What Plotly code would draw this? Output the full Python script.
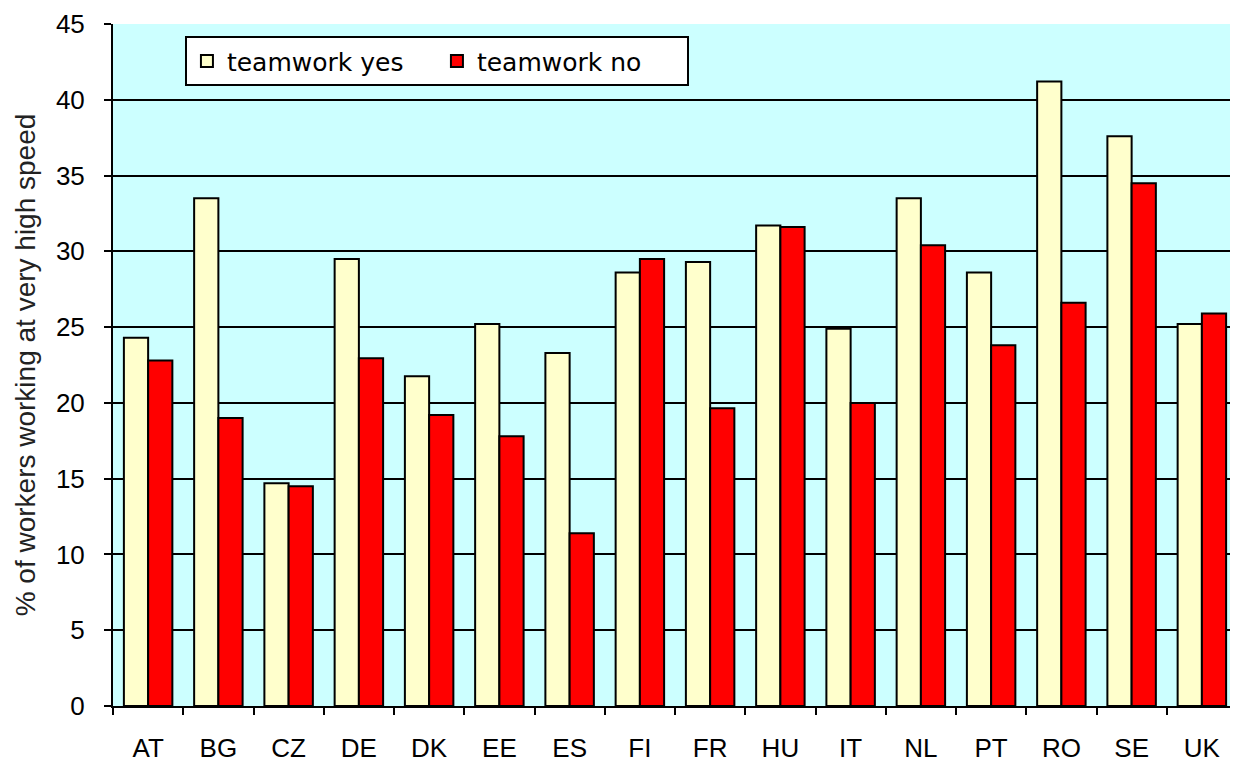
import plotly.graph_objects as go

countries = ["AT", "BG", "CZ", "DE", "DK", "EE", "ES", "FI", "FR", "HU",
             "IT", "NL", "PT", "RO", "SE", "UK"]
teamwork_yes = [24.3, 33.5, 14.7, 29.5, 21.75, 25.2, 23.3, 28.6, 29.3, 31.7,
                24.9, 33.5, 28.6, 41.2, 37.6, 25.2]
teamwork_no = [22.8, 19.0, 14.5, 22.95, 19.2, 17.8, 11.4, 29.5, 19.65, 31.6,
               20.0, 30.4, 23.8, 26.6, 34.5, 25.9]
y_ticks = [0, 5, 10, 15, 20, 25, 30, 35, 40, 45]

FONT = "Liberation Sans, Arial, sans-serif"
LEGEND_FONT = "DejaVu Sans, Verdana, sans-serif"

fig = go.Figure()
fig.add_trace(go.Bar(x=countries, y=teamwork_yes, name="teamwork yes",
                     marker=dict(color="#FFFFCC", line=dict(color="#000000", width=2))))
fig.add_trace(go.Bar(x=countries, y=teamwork_no, name="teamwork no",
                     marker=dict(color="#FF0000", line=dict(color="#000000", width=2))))

fig.update_layout(
    width=1230, height=754,
    margin=dict(l=105, r=1, t=16, b=56),
    paper_bgcolor="white",
    plot_bgcolor="#CCFFFF",
    barmode="group",
    bargap=0.31,
    bargroupgap=0,
    font=dict(family=FONT, color="#000000", size=20),
    showlegend=True,
    legend=dict(
        orientation="h",
        x=0.064, y=0.982, xanchor="left", yanchor="top",
        bgcolor="white", bordercolor="#000000", borderwidth=2,
        font=dict(family=LEGEND_FONT, size=25, color="#000000"),
        entrywidth=205, entrywidthmode="pixels",
        itemwidth=30,
    ),
    xaxis=dict(
        showline=True, linecolor="#000000", linewidth=2,
        ticks="outside", ticklen=7, tickwidth=2, tickcolor="#000000",
        tickson="boundaries",
        ticklabelstandoff=18,
        tickfont=dict(size=26, color="#000000"),
        showgrid=False,
        automargin=False,
    ),
    yaxis=dict(
        range=[0, 45], tickvals=y_ticks,
        showline=True, linecolor="#000000", linewidth=2,
        ticks="outside", ticklen=7, tickwidth=2, tickcolor="#000000",
        ticklabelstandoff=14,
        tickfont=dict(size=26, color="#000000"),
        showgrid=True, gridcolor="#000000", gridwidth=2,
        zeroline=False,
        automargin=False,
        title=dict(text="% of workers working at very high speed",
                   font=dict(size=28, color="#222222"), standoff=12),
    ),
)

fig.write_html("out.html")
